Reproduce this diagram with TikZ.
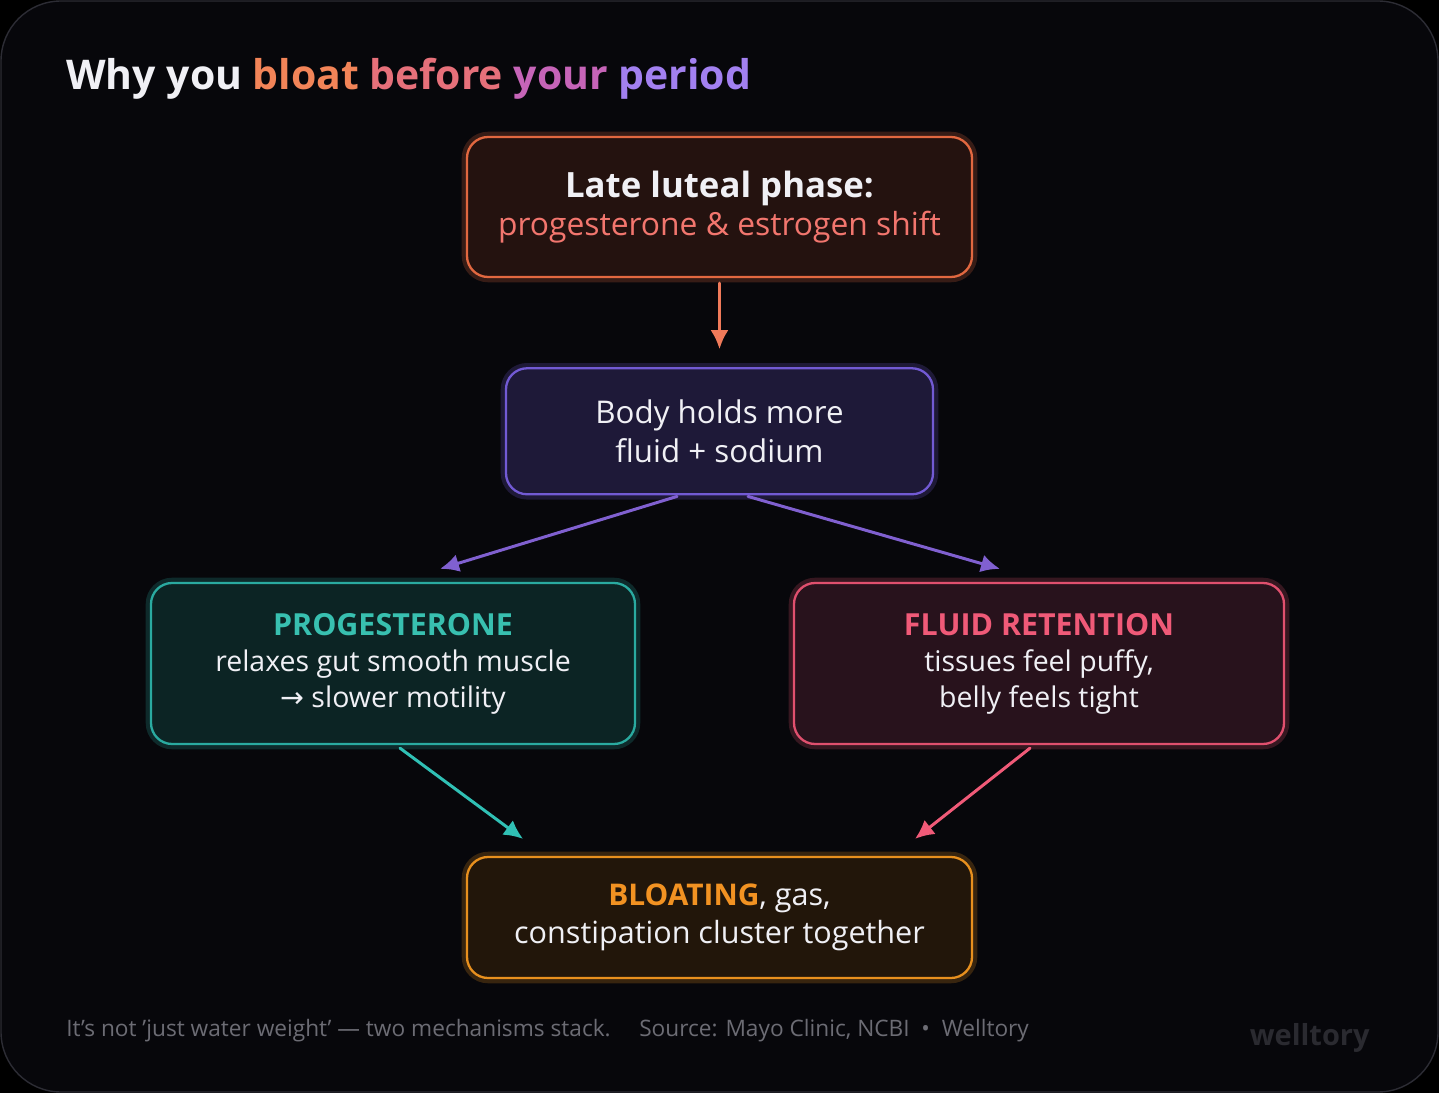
\documentclass[tikz,border=0pt]{standalone}
\usepackage{fontspec}
\setmainfont{Open Sans}
\newfontfamily\symfont{DejaVu Sans}
\usetikzlibrary{arrows.meta}
\usetikzlibrary{positioning}

\begin{document}
\begin{tikzpicture}[>={Latex[length=3.8mm,width=3.6mm]}, line cap=round, line join=round]
		
		% Colors
		\definecolor{CardBg}{RGB}{7,7,11}
		\definecolor{CardLine}{RGB}{44,44,52}
		\definecolor{TxtWhite}{RGB}{240,240,245}
		\definecolor{TitleOrange}{RGB}{242,132,88}
		\definecolor{TitlePink}{RGB}{230,112,122}
		\definecolor{TitleMagenta}{RGB}{198,100,184}
		\definecolor{TitlePurple}{RGB}{162,128,240}
		\definecolor{PhaseLine}{RGB}{226,104,64}
		\definecolor{PhaseFill}{RGB}{36,18,15}
		\definecolor{PhaseText}{RGB}{242,118,110}
		\definecolor{BodyLine}{RGB}{114,90,212}
		\definecolor{BodyFill}{RGB}{30,25,56}
		\definecolor{ProgLine}{RGB}{42,170,160}
		\definecolor{ProgFill}{RGB}{12,36,36}
		\definecolor{ProgText}{RGB}{56,192,176}
		\definecolor{FluidLine}{RGB}{224,80,110}
		\definecolor{FluidFill}{RGB}{40,18,28}
		\definecolor{FluidText}{RGB}{240,90,120}
		\definecolor{BloatLine}{RGB}{232,144,30}
		\definecolor{BloatFill}{RGB}{34,22,10}
		\definecolor{BloatText}{RGB}{242,146,34}
		\definecolor{ArrPhase}{RGB}{240,122,90}
		\definecolor{ArrBody}{RGB}{128,96,208}
		\definecolor{ArrProg}{RGB}{48,192,181}
		\definecolor{ArrFluid}{RGB}{240,90,120}
		\definecolor{FootGray}{RGB}{108,108,116}
		\definecolor{MarkGray}{RGB}{42,42,48}
		
		% Styles (fixed sizes)
		\tikzset{
			box/.style={
				rounded corners=12pt, line width=1.3pt, inner sep=6pt,
				align=center, text=TxtWhite,
				font=\fontsize{16.2}{20.5}\selectfont
			},
			glow/.style={draw=#1, preaction={draw=#1, draw opacity=0.22, line width=6pt}},
			phasebox/.style={box, glow=PhaseLine, fill=PhaseFill, minimum width=10.1cm, minimum height=2.8cm,
				font=\fontsize{18.1}{22}\selectfont},
			bodybox/.style={box, glow=BodyLine, fill=BodyFill, minimum width=8.54cm, minimum height=2.52cm,
				font=\fontsize{17.8}{22}\selectfont},
			progbox/.style={box, glow=ProgLine, fill=ProgFill, minimum width=9.68cm, minimum height=3.22cm},
			fluidbox/.style={box, glow=FluidLine, fill=FluidFill, minimum width=9.8cm, minimum height=3.22cm},
			bloatbox/.style={box, glow=BloatLine, fill=BloatFill, minimum width=10.1cm, minimum height=2.42cm,
				font=\fontsize{17.4}{22}\selectfont},
			arr/.style={->, line width=1.7pt, draw=#1, fill=#1}
		}
		
		% Card
		\useasboundingbox (0,0) rectangle (28.78,-21.86);
		\fill[black] (0,0) rectangle (28.78,-21.86);
		\draw[CardLine, fill=CardBg, line width=0.8pt, rounded corners=1.2cm] (0.02,-0.02) rectangle (28.76,-21.84);
		
		% Title
		\node[anchor=base west, inner sep=0pt, text=TxtWhite, font=\fontsize{23.3}{30}\selectfont\bfseries] (title) at (1.32,-1.80)
		{Why you \textcolor{TitleOrange}{bloat} \textcolor{TitlePink}{before} \textcolor{TitleMagenta}{your} \textcolor{TitlePurple}{period}};
		
		% Nodes
		\node[phasebox] (phase) at (14.39,-4.14)
		{{\fontsize{19.8}{22}\selectfont\bfseries Late luteal phase:}\\\textcolor{PhaseText}{progesterone \& estrogen shift}};
		
		\node[bodybox, below=17.8mm of phase] (body)
		{Body holds more\\fluid + sodium};
		
		\node[progbox] (prog) at (7.86,-13.27)
		{\textcolor{ProgText}{\fontsize{17.3}{20.5}\selectfont\bfseries PROGESTERONE}\\relaxes gut smooth muscle\\{\symfont →} slower motility};
		
		\node[fluidbox] (fluid) at (20.78,-13.27)
		{\textcolor{FluidText}{\fontsize{17.3}{20.5}\selectfont\bfseries FLUID RETENTION}\\tissues feel puffy,\\belly feels tight};
		
		\node[bloatbox] (bloat) at (14.39,-18.35)
		{\textcolor{BloatText}{\fontsize{17}{22}\selectfont\bfseries BLOATING}, gas,\\constipation cluster together};
		
		% Arrows
		\draw[arr=ArrPhase, shorten <=1mm, shorten >=3.6mm] (phase) -- (body);
		\draw[arr=ArrBody] ([xshift=-8.5mm, yshift=-0.2mm]body.south) -- ([xshift=9.4mm, yshift=2.6mm]prog.north);
		\draw[arr=ArrBody] ([xshift=5.7mm, yshift=-0.2mm]body.south) -- ([xshift=-7.8mm, yshift=2.6mm]fluid.north);
		\draw[arr=ArrProg] ([xshift=1.4mm, yshift=-0.6mm]prog.south) -- ([xshift=-39.3mm, yshift=3.4mm]bloat.north);
		\draw[arr=ArrFluid] ([xshift=-1.8mm, yshift=-0.6mm]fluid.south) -- ([xshift=39.1mm, yshift=3.4mm]bloat.north);
		
		% Footer
		\node[anchor=base west, inner sep=0pt, text=FootGray, font=\fontsize{12.9}{14}\selectfont] (foot) at (1.32,-20.72)
		{It's not 'just water weight' — two mechanisms stack.\quad\ Source: Mayo Clinic, NCBI \ •\ \ Welltory};
		\node[anchor=base east, inner sep=0pt, text=MarkGray, font=\fontsize{16.5}{20}\selectfont\bfseries] (mark) at (27.4,-20.9) {welltory};
		
	\end{tikzpicture}
\end{document}
